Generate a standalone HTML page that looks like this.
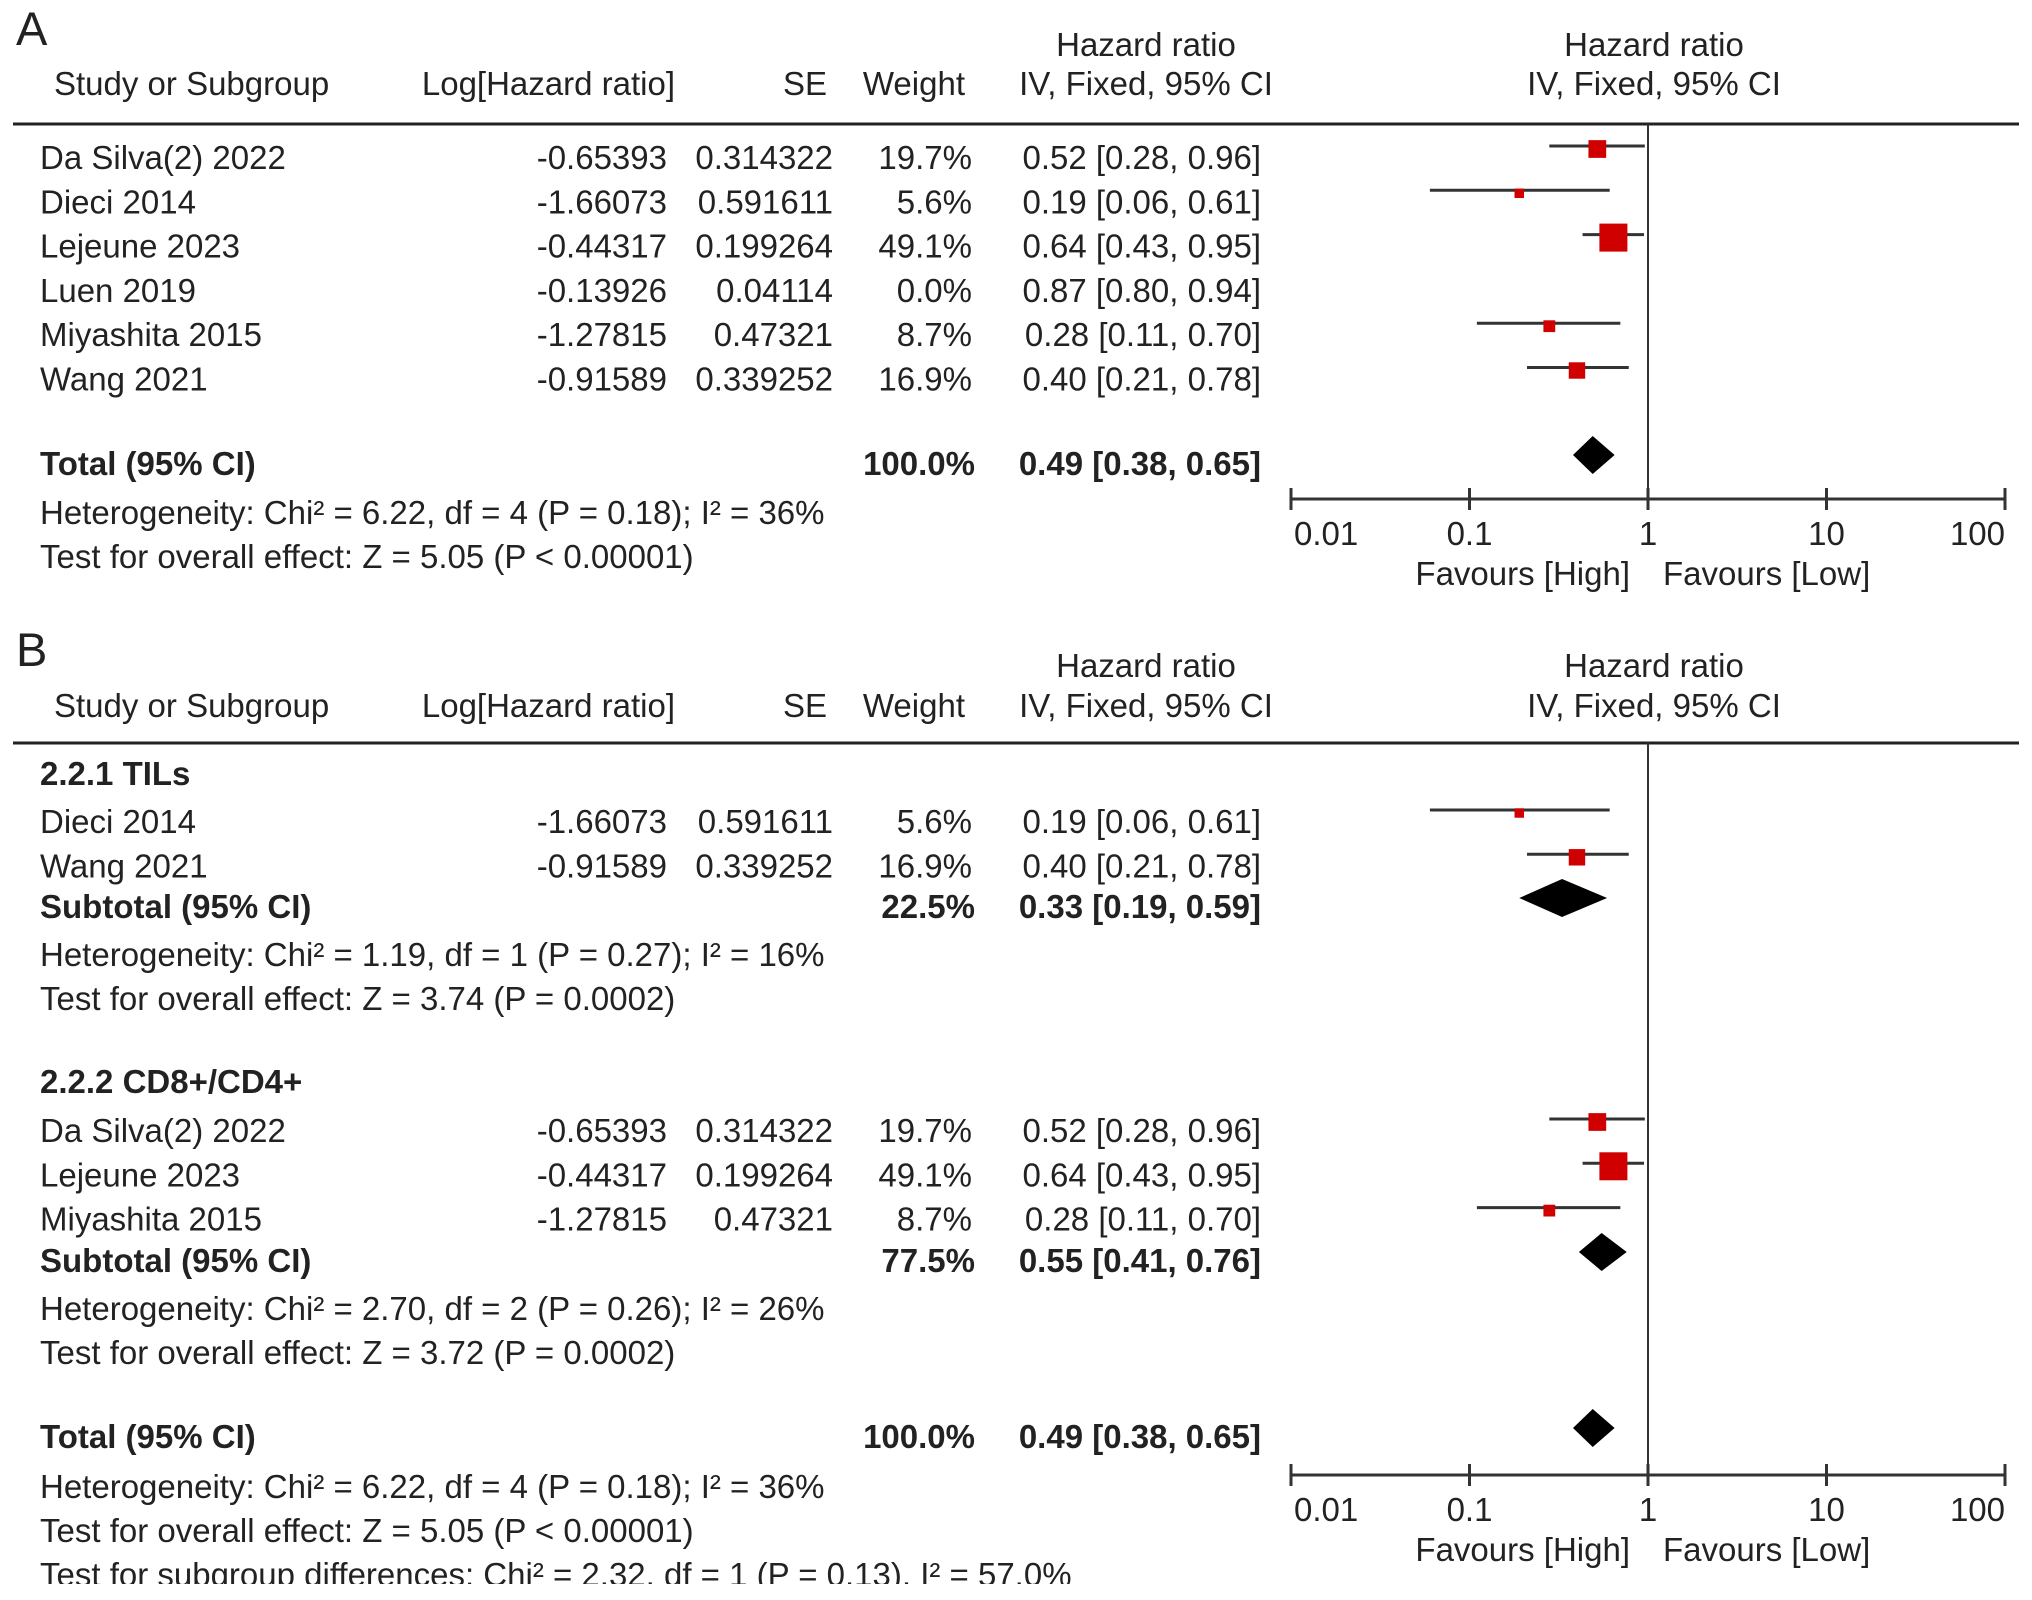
<!DOCTYPE html>
<html><head><meta charset="utf-8">
<style>
html,body{margin:0;padding:0;background:#fff;}
svg{display:block;}
text{font-family:"Liberation Sans",Arial,sans-serif;font-size:33px;fill:#222;}
.b{font-weight:bold;}
</style></head>
<body>
<svg id="chart" width="2032" height="1600" viewBox="0 0 2032 1600" xmlns="http://www.w3.org/2000/svg">
<defs><clipPath id="clip"><rect x="0" y="0" width="2032" height="1584"/></clipPath></defs>
<g id="root" clip-path="url(#clip)"></g>
</svg>
<script>
// ---- Panel A data ----
const aNames = ["Da Silva(2) 2022","Dieci 2014","Lejeune 2023","Luen 2019","Miyashita 2015","Wang 2021"];
const aLogHR = ["-0.65393","-1.66073","-0.44317","-0.13926","-1.27815","-0.91589"];
const aSE = ["0.314322","0.591611","0.199264","0.04114","0.47321","0.339252"];
const aWeight = [19.7,5.6,49.1,0.0,8.7,16.9];
const aHR = [0.52,0.19,0.64,0.87,0.28,0.40];
const aLo = [0.28,0.06,0.43,0.80,0.11,0.21];
const aHi = [0.96,0.61,0.95,0.94,0.70,0.78];
const aTotal = [0.49,0.38,0.65];
// ---- Panel B data ----
const b1Names = ["Dieci 2014","Wang 2021"];
const b1LogHR = ["-1.66073","-0.91589"];
const b1SE = ["0.591611","0.339252"];
const b1Weight = [5.6,16.9];
const b1HR = [0.19,0.40];
const b1Lo = [0.06,0.21];
const b1Hi = [0.61,0.78];
const b1Sub = [0.33,0.19,0.59];
const b2Names = ["Da Silva(2) 2022","Lejeune 2023","Miyashita 2015"];
const b2LogHR = ["-0.65393","-0.44317","-1.27815"];
const b2SE = ["0.314322","0.199264","0.47321"];
const b2Weight = [19.7,49.1,8.7];
const b2HR = [0.52,0.64,0.28];
const b2Lo = [0.28,0.43,0.11];
const b2Hi = [0.96,0.95,0.70];
const b2Sub = [0.55,0.41,0.76];
const bTotal = [0.49,0.38,0.65];
const tickValues = [0.01,0.1,1,10,100];
const tickLabels = ["0.01","0.1","1","10","100"];

const NS="http://www.w3.org/2000/svg";
const root=document.getElementById('root');
function xs(v){return 1648+178.5*Math.log10(v);}
function fmt(v){return v.toFixed(2);}
function ciText(h,l,u){return fmt(h)+" ["+fmt(l)+", "+fmt(u)+"]";}
function mk(tag,attrs,parent){const e=document.createElementNS(NS,tag);for(const k in attrs)e.setAttribute(k,attrs[k]);(parent||root).appendChild(e);return e;}
function txt(str,x,yc,anchor,bold,size){
  const t=mk('text',{x:x,y:yc+11,'text-anchor':anchor||'start'});
  if(bold)t.setAttribute('class','b');
  if(size)t.style.fontSize=size+'px';
  t.textContent=str;
  
  
  return t;
}
function header(y1,y2,lineY,top,bottom){
  txt("Study or Subgroup",54,y2);
  txt("Log[Hazard ratio]",675,y2,'end');
  txt("SE",827,y2,'end');
  txt("Weight",965,y2,'end');
  txt("Hazard ratio",1146,y1,'middle');
  txt("IV, Fixed, 95% CI",1146,y2,'middle');
  txt("Hazard ratio",1654,y1,'middle');
  txt("IV, Fixed, 95% CI",1654,y2,'middle');
  const l=mk('line',{x1:13,x2:2019,y1:lineY,y2:lineY,stroke:'#222','stroke-width':3});
  
  
  const v=mk('line',{x1:xs(1),x2:xs(1),y1:lineY,y2:bottom,stroke:'#333','stroke-width':2});
  
  
}
function studyRow(name,lhr,se,w,h,l,u,yc){
  txt(name,40,yc);
  txt(lhr,667,yc,'end');
  txt(se,833,yc,'end');
  txt(w.toFixed(1)+"%",972,yc,'end');
  txt(ciText(h,l,u),1261,yc,'end');
  if(w>0){
    const ly=yc-12;
    const ln=mk('line',{x1:xs(l),x2:xs(u),y1:ly,y2:ly,stroke:'#333','stroke-width':3});
    
    
    const s=28*Math.sqrt(w/49.1);
    const r=mk('rect',{x:xs(h)-s/2,y:ly-s/2+3,width:s,height:s,fill:'#d00000'});
    
    
  }
}
function diamond(v,yc,label,wt){
  txt(label,40,yc,'start',true);
  txt(wt,975,yc,'end',true);
  txt(ciText(v[0],v[1],v[2]),1261,yc,'end',true);
  const cy=yc-9;
  const p=mk('polygon',{points:[xs(v[1])+','+cy,xs(v[0])+','+(cy-19),xs(v[2])+','+cy,xs(v[0])+','+(cy+19)].join(' '),fill:'#000'});
  
  
}
function axis(ay){
  const a=mk('line',{x1:xs(0.01),x2:xs(100),y1:ay,y2:ay,stroke:'#333','stroke-width':3});
  
  
  tickValues.forEach((v,i)=>{
    const t=mk('line',{x1:xs(v),x2:xs(v),y1:ay-11,y2:ay+11,stroke:'#333','stroke-width':3});
    
    
    const anc=i===0?'start':(i===tickValues.length-1?'end':'middle');
    txt(tickLabels[i],xs(v)+(i===0?3:0),ay+35,anc);
  });
  txt("Favours [High]",1630,ay+75,'end');
  txt("Favours [Low]",1663,ay+75,'start');
}
// Panel A
txt("A",16,34,'start',false,47);
header(45,84,124,0,499);
aNames.forEach((n,i)=>studyRow(n,aLogHR[i],aSE[i],aWeight[i],aHR[i],aLo[i],aHi[i],158+44.3*i));
diamond(aTotal,464,"Total (95% CI)","100.0%");
txt("Heterogeneity: Chi² = 6.22, df = 4 (P = 0.18); I² = 36%",40,513);
txt("Test for overall effect: Z = 5.05 (P < 0.00001)",40,557);
axis(499);
// Panel B
txt("B",16,655,'start',false,47);
header(666,706,743,0,1475);
txt("2.2.1 TILs",40,774,'start',true);
b1Names.forEach((n,i)=>studyRow(n,b1LogHR[i],b1SE[i],b1Weight[i],b1HR[i],b1Lo[i],b1Hi[i],822+44.3*i));
diamond(b1Sub,907,"Subtotal (95% CI)","22.5%");
txt("Heterogeneity: Chi² = 1.19, df = 1 (P = 0.27); I² = 16%",40,955);
txt("Test for overall effect: Z = 3.74 (P = 0.0002)",40,999);
txt("2.2.2 CD8+/CD4+",40,1082,'start',true);
b2Names.forEach((n,i)=>studyRow(n,b2LogHR[i],b2SE[i],b2Weight[i],b2HR[i],b2Lo[i],b2Hi[i],1131+44.3*i));
diamond(b2Sub,1261,"Subtotal (95% CI)","77.5%");
txt("Heterogeneity: Chi² = 2.70, df = 2 (P = 0.26); I² = 26%",40,1309);
txt("Test for overall effect: Z = 3.72 (P = 0.0002)",40,1353);
diamond(bTotal,1437,"Total (95% CI)","100.0%");
txt("Heterogeneity: Chi² = 6.22, df = 4 (P = 0.18); I² = 36%",40,1487);
txt("Test for overall effect: Z = 5.05 (P < 0.00001)",40,1531);
txt("Test for subgroup differences: Chi² = 2.32, df = 1 (P = 0.13), I² = 57.0%",40,1575);
axis(1475);
</script>
</body></html>
